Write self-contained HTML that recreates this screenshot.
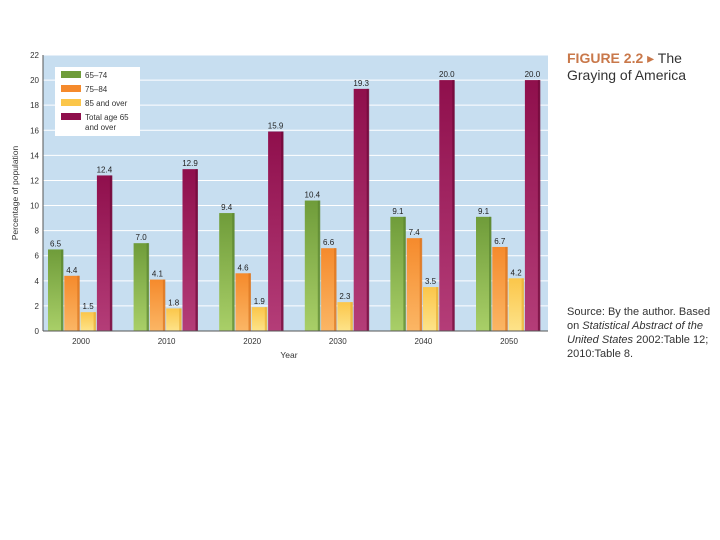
<!DOCTYPE html>
<html><head><meta charset="utf-8"><style>
body{margin:0;width:720px;height:540px;background:#fff;overflow:hidden;font-family:"Liberation Sans",sans-serif}
.cap{position:absolute;left:567px;font-size:12.5px;color:#333;line-height:15px}
</style></head><body>
<svg id="chart" width="720" height="540" style="position:absolute;left:0;top:0">
<defs>
<linearGradient id="gG" x1="0" y1="0" x2="0" y2="1"><stop offset="0" stop-color="#6f9c3a"/><stop offset="1" stop-color="#a9cf68"/></linearGradient>
<linearGradient id="gO" x1="0" y1="0" x2="0" y2="1"><stop offset="0" stop-color="#f58a2c"/><stop offset="1" stop-color="#fbb665"/></linearGradient>
<linearGradient id="gY" x1="0" y1="0" x2="0" y2="1"><stop offset="0" stop-color="#fbc64a"/><stop offset="1" stop-color="#fde38a"/></linearGradient>
<linearGradient id="gP" x1="0" y1="0" x2="0" y2="1"><stop offset="0" stop-color="#8f0f4c"/><stop offset="1" stop-color="#b43d78"/></linearGradient>
</defs>
<rect x="43" y="55" width="505" height="276" fill="#c7def0"/>
<g id="grid"></g><g id="bars"></g><g id="axes"></g>
<text transform="translate(18,193) rotate(-90)" text-anchor="middle" font-size="8.5" fill="#333">Percentage of population</text>
<text x="289" y="358" text-anchor="middle" font-size="8.5" fill="#333">Year</text>
<g>
<rect x="55" y="67" width="85" height="69" fill="#fff"/>
<rect x="61" y="71" width="20" height="7" fill="#6f9c3a"/><text x="85" y="78" font-size="8" fill="#333">65–74</text>
<rect x="61" y="85" width="20" height="7" fill="#f58a2c"/><text x="85" y="92" font-size="8" fill="#333">75–84</text>
<rect x="61" y="99" width="20" height="7" fill="#fbc64a"/><text x="85" y="106" font-size="8" fill="#333">85 and over</text>
<rect x="61" y="113" width="20" height="7" fill="#8f0f4c"/><text x="85" y="120" font-size="8" fill="#333">Total age 65</text><text x="85" y="130" font-size="8" fill="#333">and over</text>
</g>
</svg>
<div class="cap" style="top:50px;font-size:14px;line-height:17px"><span style="color:#c9784a;font-weight:bold">FIGURE 2.2</span> <span style="color:#c9784a">▸</span> The<br>Graying of America</div>
<div class="cap" style="top:305px;font-size:11px;line-height:14px">Source: By the author. Based<br>on <i>Statistical Abstract of the<br>United States</i> 2002:Table 12;<br>2010:Table 8.</div>
<script>
const years=["2000","2010","2020","2030","2040","2050"];
const s6574=[6.5,7.0,9.4,10.4,9.1,9.1];
const s7584=[4.4,4.1,4.6,6.6,7.4,6.7];
const s85=[1.5,1.8,1.9,2.3,3.5,4.2];
const sTotal=[12.4,12.9,15.9,19.3,20.0,20.0];
const yTicks=[0,2,4,6,8,10,12,14,16,18,20,22];
const NS="http://www.w3.org/2000/svg";
const y0=331,ppu=276/22;
const Y=v=>y0-v*ppu;
const X=(g,s)=>48+g*85.6+s*16.3;
function mk(t,a,p){const e=document.createElementNS(NS,t);for(const k in a)e.setAttribute(k,a[k]);p.appendChild(e);return e;}
const grid=document.getElementById('grid'),bars=document.getElementById('bars'),axes=document.getElementById('axes');
yTicks.forEach(v=>{
 const l=mk('line',{x1:43,x2:548,y1:Y(v),y2:Y(v),stroke:'#fff','stroke-width':1},grid);
 
 
 const t=mk('text',{x:39,y:Y(v)+3,'text-anchor':'end','font-size':8,fill:'#333'},axes);
 
 
 t.textContent=v;
});
mk('line',{x1:43,x2:43,y1:55,y2:331,stroke:'#555'},axes);
mk('line',{x1:43,x2:548,y1:331,y2:331,stroke:'#555'},axes);
const series=[[s6574,'gG','#5a8430'],[s7584,'gO','#d9741f'],[s85,'gY','#e8ae35'],[sTotal,'gP','#6d0838']];
years.forEach((yr,g)=>{
 series.forEach(([arr,fill,dark],s)=>{
  const v=arr[g],x=X(g,s);
  const r=mk('rect',{x:x,y:Y(v),width:15,height:y0-Y(v),fill:'url(#'+fill+')'},bars);
  
  
  mk('rect',{x:x+13,y:Y(v),width:2.5,height:y0-Y(v),fill:dark,opacity:0.7},bars);
  const t=mk('text',{x:x+7.5,y:Y(v)-3,'text-anchor':'middle','font-size':8,fill:'#222'},bars);
  
  
  t.textContent=v.toFixed(1);
 });
 const t=mk('text',{x:X(g,0)+33,y:344,'text-anchor':'middle','font-size':8,fill:'#333'},axes);
 
 
 t.textContent=yr;
});
</script>
</body></html>
